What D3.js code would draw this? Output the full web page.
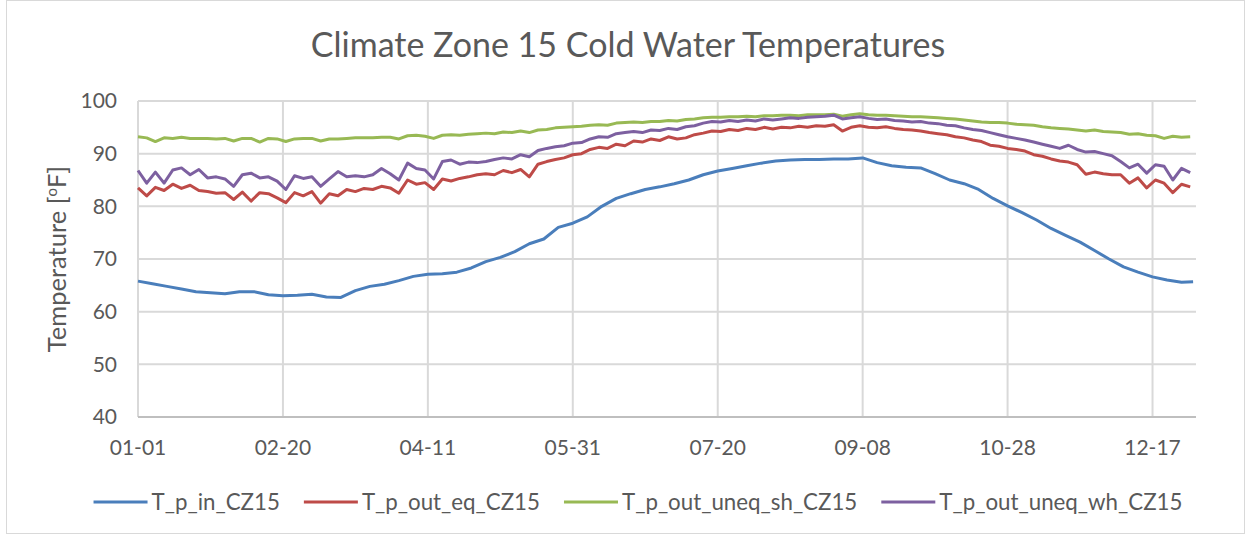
<!DOCTYPE html>
<html>
<head>
<meta charset="utf-8">
<script src="https://cdn.jsdelivr.net/npm/d3@7"></script>
<style>
  body { margin: 0; background: #fff; }
  text { font-family: Lato, "Open Sans", sans-serif; fill: #595959; }
</style>
</head>
<body>
<div id="chart"></div>
<script>
// day-of-year categories (0 = 01-01)
const dayIn = d3.range(0, 361, 5).concat([364]);
const dayOut = d3.range(0, 364, 3);

const tickDays = [0, 50, 100, 150, 200, 250, 300, 350];
const tickLabels = ["01-01", "02-20", "04-11", "05-31", "07-20", "09-08", "10-28", "12-17"];
const yTicks = [40, 50, 60, 70, 80, 90, 100];

const T_p_in = [65.8, 65.3, 64.8, 64.3, 63.8, 63.6, 63.4, 63.8, 63.8, 63.2, 63.0, 63.1, 63.3, 62.8, 62.7,
  64.0, 64.8, 65.2, 65.9, 66.7, 67.1, 67.2, 67.5, 68.3, 69.5, 70.3, 71.4, 72.9, 73.8, 76.0, 76.8, 78.0,
  80.0, 81.5, 82.4, 83.2, 83.7, 84.3, 85.0, 86.0, 86.7, 87.2, 87.7, 88.2, 88.6, 88.8, 88.9, 88.9, 89.0,
  89.0, 89.2, 88.3, 87.7, 87.4, 87.3, 86.2, 85.0, 84.3, 83.2, 81.5, 80.1, 78.8, 77.4, 75.8, 74.5, 73.2,
  71.6, 70.0, 68.5, 67.5, 66.6, 66.0, 65.6, 65.7];

const T_p_out_eq = [83.5, 82.0, 83.6, 83.0, 84.2, 83.4, 84.0, 83.0, 82.8, 82.5, 82.6, 81.3, 82.7, 81.0,
  82.6, 82.4, 81.6, 80.7, 82.6, 82.0, 82.8, 80.6, 82.4, 82.0, 83.2, 82.8, 83.4, 83.2, 83.8, 83.5, 82.5,
  85.0, 84.2, 84.5, 83.2, 85.2, 84.8, 85.3, 85.6, 86.0, 86.2, 86.0, 86.8, 86.4, 87.0, 85.6, 88.0, 88.5,
  88.9, 89.2, 89.8, 90.0, 90.8, 91.2, 91.0, 91.8, 91.5, 92.4, 92.2, 92.8, 92.5, 93.2, 92.8, 93.0, 93.6,
  93.9, 94.3, 94.2, 94.6, 94.4, 94.8, 94.6, 95.0, 94.7, 95.0, 94.9, 95.2, 95.0, 95.3, 95.2, 95.5, 94.3,
  95.0, 95.3, 95.0, 94.9, 95.1, 94.8, 94.6, 94.5, 94.3, 94.0, 93.8, 93.6, 93.2, 93.0, 92.6, 92.3, 91.6,
  91.4, 91.0, 90.8, 90.5, 89.8, 89.5, 89.0, 88.6, 88.4, 87.9, 86.1, 86.5, 86.2, 86.0, 86.0, 84.4, 85.4,
  83.5, 85.0, 84.4, 82.6, 84.2, 83.7];

const T_p_out_uneq_sh = [93.2, 93.0, 92.3, 93.0, 92.9, 93.1, 92.9, 92.9, 92.9, 92.8, 92.9, 92.4, 92.9,
  92.9, 92.2, 92.9, 92.8, 92.3, 92.8, 92.9, 92.9, 92.4, 92.8, 92.8, 92.9, 93.0, 93.0, 93.0, 93.1, 93.1,
  92.8, 93.4, 93.5, 93.3, 92.9, 93.5, 93.6, 93.5, 93.7, 93.8, 93.9, 93.8, 94.1, 94.0, 94.3, 94.0, 94.5,
  94.6, 94.9, 95.0, 95.1, 95.2, 95.4, 95.5, 95.4, 95.8, 95.9, 96.0, 95.9, 96.1, 96.1, 96.3, 96.2, 96.5,
  96.6, 96.8, 96.9, 96.9, 97.0, 97.0, 97.1, 97.0, 97.2, 97.2, 97.3, 97.3, 97.2, 97.4, 97.4, 97.4, 97.5,
  97.1, 97.4, 97.6, 97.4, 97.3, 97.3, 97.2, 97.1, 97.0, 97.0, 96.9, 96.8, 96.7, 96.6, 96.4, 96.2, 96.0,
  95.9, 95.9, 95.8, 95.6, 95.5, 95.4, 95.1, 94.9, 94.8, 94.7, 94.5, 94.3, 94.5, 94.2, 94.1, 94.0, 93.7,
  93.8, 93.5, 93.4, 92.9, 93.3, 93.1, 93.2];

const T_p_out_uneq_wh = [86.8, 84.4, 86.5, 84.4, 86.9, 87.3, 86.0, 87.0, 85.4, 85.6, 85.2, 83.8, 86.0,
  86.3, 85.4, 85.6, 84.8, 83.2, 85.8, 85.3, 85.6, 83.8, 85.2, 86.6, 85.6, 85.8, 85.6, 86.0, 87.2, 86.2,
  85.0, 88.2, 87.2, 86.9, 85.2, 88.5, 88.8, 88.0, 88.4, 88.3, 88.5, 88.9, 89.2, 89.0, 89.8, 89.4, 90.6,
  91.0, 91.3, 91.5, 92.0, 92.1, 92.8, 93.2, 93.1, 93.8, 94.0, 94.2, 94.0, 94.5, 94.4, 94.8, 94.6, 95.1,
  95.3, 95.8, 96.1, 96.0, 96.3, 96.1, 96.4, 96.2, 96.6, 96.4, 96.6, 96.8, 96.7, 96.9, 97.0, 97.1, 97.3,
  96.6, 96.8, 97.0, 96.7, 96.5, 96.6, 96.3, 96.2, 96.0, 96.1, 95.8, 95.7, 95.4, 95.3, 94.9, 94.6, 94.4,
  94.0, 93.6, 93.2, 92.9, 92.6, 92.2, 91.8, 91.4, 91.0, 91.6, 90.8, 90.3, 90.4, 90.0, 89.6, 88.5, 87.3,
  88.0, 86.3, 87.9, 87.6, 85.0, 87.2, 86.4];

const series = [
  { name: "T_p_in_CZ15", days: dayIn, values: T_p_in, color: "#4a7ebb" },
  { name: "T_p_out_eq_CZ15", days: dayOut, values: T_p_out_eq, color: "#be4b48" },
  { name: "T_p_out_uneq_sh_CZ15", days: dayOut, values: T_p_out_uneq_sh, color: "#98b954" },
  { name: "T_p_out_uneq_wh_CZ15", days: dayOut, values: T_p_out_uneq_wh, color: "#7d60a0" }
];

const width = 1251, height = 537;
const margin = { top: 101, right: 55, bottom: 120, left: 138 };

const svg = d3.select("#chart").append("svg")
  .attr("width", width)
  .attr("height", height);

// outer chart border
svg.append("rect")
  .attr("x", 6.5).attr("y", 0.5)
  .attr("width", 1238).attr("height", 533)
  .attr("fill", "#fff")
  .attr("stroke", "#d9d9d9");

const x = d3.scaleLinear().domain([0, 365]).range([margin.left, width - margin.right]);
const y = d3.scaleLinear().domain([40, 100]).range([height - margin.bottom, margin.top]);

// horizontal gridlines
svg.append("g")
  .selectAll("line")
  .data(yTicks)
  .enter().append("line")
    .attr("x1", x(0)).attr("x2", x(365))
    .attr("y1", d => y(d)).attr("y2", d => y(d))
    .attr("stroke", "#d9d9d9")
    .attr("stroke-width", 2);

// vertical gridlines
svg.append("g")
  .selectAll("line")
  .data(tickDays)
  .enter().append("line")
    .attr("x1", d => x(d)).attr("x2", d => x(d))
    .attr("y1", y(40)).attr("y2", y(100))
    .attr("stroke", "#d9d9d9")
    .attr("stroke-width", 2);

// x axis line
svg.append("line")
  .attr("x1", x(0)).attr("x2", x(365))
  .attr("y1", y(40)).attr("y2", y(40))
  .attr("stroke", "#bfbfbf")
  .attr("stroke-width", 2);

// y tick labels
svg.append("g")
  .selectAll("text")
  .data(yTicks)
  .enter().append("text")
    .attr("x", 117)
    .attr("y", d => y(d))
    .attr("dy", "0.35em")
    .attr("text-anchor", "end")
    .style("font-size", "21px")
    .text(d => d);

// x tick labels
svg.append("g")
  .selectAll("text")
  .data(tickDays)
  .enter().append("text")
    .attr("x", d => x(d))
    .attr("y", 455)
    .attr("text-anchor", "middle")
    .style("font-size", "21px")
    .text((d, i) => tickLabels[i]);

// title
svg.append("text")
  .attr("x", 628)
  .attr("y", 57)
  .attr("text-anchor", "middle")
  .style("font-size", "34px")
  .text("Climate Zone 15 Cold Water Temperatures");

// y axis title
const yTitle = svg.append("text")
  .attr("transform", "translate(66," + y(70) + ") rotate(-90)")
  .attr("text-anchor", "middle")
  .style("font-size", "25.5px");
yTitle.append("tspan").text("Temperature [");
yTitle.append("tspan").attr("baseline-shift", "super").style("font-size", "15px").text("o");
yTitle.append("tspan").text("F]");

// series lines
const line = d3.line()
  .x(d => x(d[0]))
  .y(d => y(d[1]));

svg.append("g")
  .selectAll("path")
  .data(series)
  .enter().append("path")
    .attr("d", s => line(s.days.map((d, i) => [d, s.values[i]])))
    .attr("fill", "none")
    .attr("stroke", s => s.color)
    .attr("stroke-width", 3)
    .attr("stroke-linejoin", "round");

// legend
const legend = svg.append("g").attr("class", "legend");
const items = legend.selectAll("g")
  .data(series)
  .enter().append("g");

items.append("line")
  .attr("x1", 0).attr("x2", 54)
  .attr("y1", 0).attr("y2", 0)
  .attr("stroke", s => s.color)
  .attr("stroke-width", 3);

items.append("text")
  .attr("x", 58)
  .attr("dy", "0.35em")
  .style("font-size", "22.3px")
  .text(s => s.name);

let lx = 0;
items.each(function () {
  const w = d3.select(this).select("text").node().getComputedTextLength();
  d3.select(this).attr("transform", "translate(" + lx + ",0)");
  lx += 58 + w + 24;
});
lx -= 24;
legend.attr("transform", "translate(" + (638 - lx / 2) + ",502)");
</script>
</body>
</html>
